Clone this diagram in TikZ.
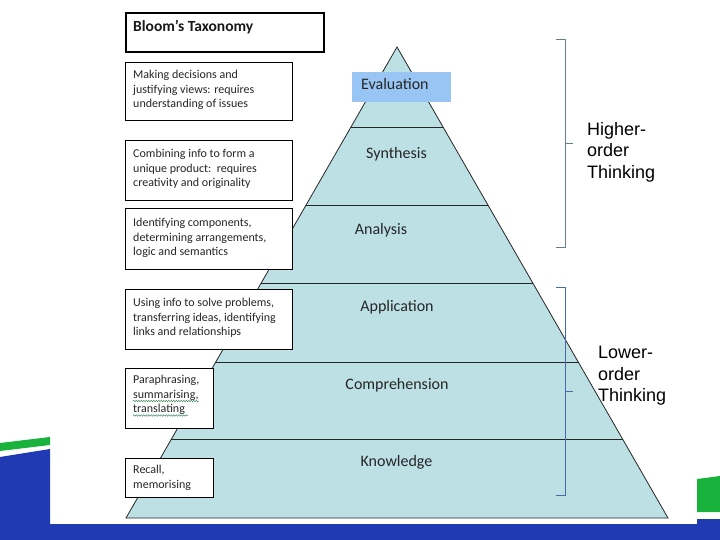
\documentclass[tikz,border=0pt]{standalone}
\usepackage{fontspec}
\setmainfont{Carlito}
\newfontfamily\arialf{Liberation Sans}
\usetikzlibrary{calc,decorations.pathmorphing}
\definecolor{pyrfill}{RGB}{188,224,228}
\definecolor{evalblue}{RGB}{153,197,245}
\definecolor{bandblue}{RGB}{32,58,180}
\definecolor{bandgreen}{RGB}{25,178,60}
\definecolor{brgray}{RGB}{100,125,145}
\definecolor{brblue}{RGB}{70,105,170}
\definecolor{spellgreen}{RGB}{70,140,100}
\begin{document}
\begin{tikzpicture}[x=1pt,y=-1pt,
  infobox/.style={draw=black, fill=white, line width=0.9pt, anchor=north west, inner sep=0pt},
  infotext/.style={anchor=north west, inner sep=0pt, align=left, text=black!85, font=\fontsize{12}{14.5}\selectfont},
  levellabel/.style={inner sep=0pt, text=black!85, font=\fontsize{16}{18}\selectfont},
  thinktext/.style={anchor=north west, inner sep=0pt, align=left, font=\arialf\fontsize{18}{21.5}\selectfont},
  pyrline/.style={draw=black!85, line width=0.8pt},
  bracketline/.style={line width=0.8pt},
  spell/.style={draw=spellgreen, line width=0.5pt, decorate, decoration={snake, amplitude=0.7pt, segment length=2.5pt}}]

\useasboundingbox (0,0) rectangle (720,540);

% background bands
\fill[bandgreen] (0,443) -- (50,437) -- (50,445) -- (0,451) -- cycle;
\fill[bandblue] (0,457) -- (50,449) -- (50,524) -- (697,524) -- (697,519) -- (720,519) -- (720,540) -- (0,540) -- cycle;
\fill[bandgreen] (697,479) -- (720,476) -- (720,512) -- (697,512) -- cycle;

% pyramid
\coordinate (apex) at (397,47);
\coordinate (bl) at (126,518);
\coordinate (br) at (668,518);
\draw[pyrline, fill=pyrfill] (apex) -- (br) -- (bl) -- cycle;
\foreach \t [count=\i] in {0.170,0.3355,0.501,0.669,0.834} {
  \coordinate (L\i) at ($(apex)!\t!(bl)$);
  \coordinate (R\i) at ($(apex)!\t!(br)$);
  \draw[pyrline] (L\i) -- (R\i);
}

% level labels
\node[fill=evalblue, minimum width=99pt, minimum height=30pt, anchor=north west, inner sep=0pt] (evalbox) at (352,72) {};
\node[levellabel, anchor=base west] (eval) at (361,90) {Evaluation};
\node[levellabel, anchor=base] (synth) at (396.5,159) {Synthesis};
\node[levellabel, anchor=base] (anal) at (381,235) {Analysis};
\node[levellabel, anchor=base] (appl) at (397,311) {Application};
\node[levellabel, anchor=base] (comp) at (397,389) {Comprehension};
\node[levellabel, anchor=base] (know) at (396.5,466) {Knowledge};

% left boxes
\node[infobox, line width=1.6pt, minimum width=198pt, minimum height=39pt] (title) at (125,12) {};
\node[anchor=north west, inner sep=0pt, text=black!90, font=\bfseries\fontsize{15.5}{17}\selectfont] (titletext) at (133,20) {Bloom’s Taxonomy};

\node[infobox, minimum width=167pt, minimum height=58pt] (b2) at (125,62) {};
\node[infotext] (t2) at (133,70) {Making decisions and\\justifying views: requires\\understanding of issues};

\node[infobox, minimum width=167pt, minimum height=60pt] (b3) at (125,140) {};
\node[infotext] (t3) at (133,149) {Combining info to form a\\unique product:\ \ requires\\creativity and originality};

\node[infobox, minimum width=167pt, minimum height=61pt] (b4) at (125,208) {};
\node[infotext] (t4) at (133,218) {Identifying components,\\determining arrangements,\\logic and semantics};

\node[infobox, minimum width=167pt, minimum height=60pt] (b5) at (125,289) {};
\node[infotext] (t5) at (133,298) {Using info to solve problems,\\transferring ideas, identifying\\links and relationships};

\node[infobox, minimum width=88pt, minimum height=60pt] (b6) at (125,368) {};
\node[infotext] (t6) at (133,375) {Paraphrasing,\\summarising,\\translating};
\coordinate (s1a) at (133,401); \coordinate (s1b) at (199,401);
\coordinate (s2a) at (133,415.5); \coordinate (s2b) at (188,415.5);
\draw[spell] (s1a) -- (s1b);
\draw[spell] (s2a) -- (s2b);

\node[infobox, minimum width=88pt, minimum height=39pt] (b7) at (125,458) {};
\node[infotext] (t7) at (133,465) {Recall,\\memorising};

% brackets
\coordinate (h1) at (556,39); \coordinate (h2) at (565,39);
\coordinate (h3) at (565,247); \coordinate (h4) at (556,247);
\coordinate (hm) at (565,143); \coordinate (ht) at (573,143);
\draw[bracketline, draw=brgray] (h1) -- (h2) -- (h3) -- (h4);
\draw[bracketline, draw=brgray] (hm) -- (ht);

\coordinate (l1) at (556,287); \coordinate (l2) at (565,287);
\coordinate (l3) at (565,495); \coordinate (l4) at (556,495);
\coordinate (lm) at (565,391); \coordinate (lt) at (573,391);
\draw[bracketline, draw=brblue] (l1) -- (l2) -- (l3) -- (l4);
\draw[bracketline, draw=brblue] (lm) -- (lt);

\node[thinktext] (higher) at (587,122) {Higher-\\order\\Thinking};
\node[thinktext] (lower) at (598,346) {Lower-\\order\\Thinking};
\end{tikzpicture}
\end{document}
